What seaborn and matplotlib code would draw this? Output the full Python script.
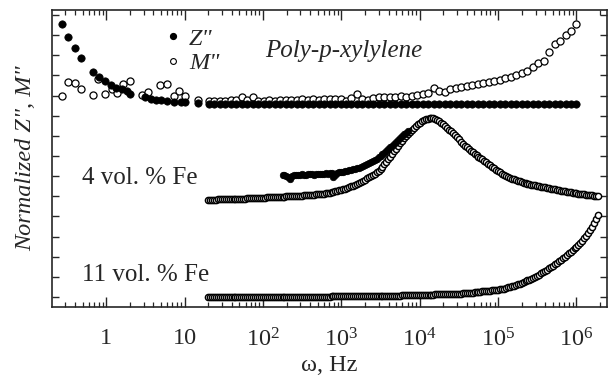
import numpy as np
import pandas as pd
import matplotlib
matplotlib.use("Agg")
import matplotlib.pyplot as plt
import seaborn as sns
from matplotlib.ticker import LogLocator, NullFormatter
from matplotlib.lines import Line2D

# ---------------- data (log10 of frequency in Hz, normalized values) ----------------
# Poly-p-xylylene, low-frequency part
logf_pz_low = [-0.56, -0.49, -0.40, -0.32, -0.17, -0.09, -0.01, 0.06, 0.13, 0.20,
               0.27, 0.31, 0.50, 0.57, 0.63, 0.70, 0.78, 0.86, 0.95, 1.01, 1.17]
z_pz_low = [13.55, 12.91, 12.36, 11.87, 11.17, 10.92, 10.72, 10.53, 10.38, 10.33,
            10.23, 10.08, 9.93, 9.83, 9.80, 9.78, 9.73, 9.70, 9.68, 9.68, 9.65]
logf_pm_low = [-0.56, -0.49, -0.40, -0.32, -0.17, -0.10, -0.02, 0.08, 0.14, 0.22,
               0.31, 0.46, 0.54, 0.69, 0.78, 0.86, 0.93, 1.01, 1.17]
m_pm_low = [9.98, 10.67, 10.63, 10.33, 10.03, 10.82, 10.08, 10.33, 10.13, 10.58,
            10.72, 10.03, 10.18, 10.53, 10.58, 9.98, 10.23, 9.98, 9.78]

# Poly-p-xylylene, 20 Hz .. 1 MHz
logf_top = [1.31, 1.38, 1.45, 1.52, 1.59, 1.66, 1.73, 1.80, 1.87, 1.94, 2.01, 2.08,
            2.15, 2.22, 2.29, 2.36, 2.43, 2.50, 2.57, 2.64, 2.71, 2.78, 2.85, 2.92,
            2.99, 3.06, 3.13, 3.20, 3.27, 3.34, 3.41, 3.48, 3.55, 3.62, 3.69, 3.76,
            3.83, 3.90, 3.97, 4.04, 4.11, 4.18, 4.25, 4.32, 4.39, 4.46, 4.53, 4.60,
            4.67, 4.74, 4.81, 4.88, 4.95, 5.02, 5.09, 5.16, 5.23, 5.30, 5.37, 5.44,
            5.51, 5.58, 5.65, 5.72, 5.79, 5.86, 5.93, 6.00]
z_top = [9.60] * len(logf_top)
m_top = [9.73, 9.75, 9.73, 9.75, 9.78, 9.80, 9.93, 9.78, 9.93, 9.75, 9.75, 9.78,
         9.75, 9.78, 9.80, 9.78, 9.80, 9.83, 9.80, 9.83, 9.80, 9.83, 9.83, 9.83,
         9.83, 9.73, 9.88, 10.08, 9.85, 9.80, 9.88, 9.93, 9.95, 9.95, 9.93, 9.98,
         9.93, 9.98, 10.03, 10.08, 10.13, 10.38, 10.23, 10.20, 10.33, 10.40, 10.43, 10.48,
         10.53, 10.58, 10.63, 10.66, 10.70, 10.77, 10.85, 10.93, 11.02, 11.10, 11.22, 11.40,
         11.62, 11.70, 12.15, 12.55, 12.70, 13.00, 13.21, 13.55]

# 4 vol.% Fe and 11 vol.% Fe, 20 Hz .. 1.9 MHz
logf_fe = [1.300, 1.325, 1.350, 1.375, 1.400, 1.425, 1.450, 1.475, 1.500, 1.525,
           1.550, 1.575, 1.600, 1.625, 1.650, 1.675, 1.700, 1.725, 1.750, 1.775,
           1.800, 1.825, 1.850, 1.875, 1.900, 1.925, 1.950, 1.975, 2.000, 2.025,
           2.050, 2.075, 2.100, 2.125, 2.150, 2.175, 2.200, 2.225, 2.250, 2.275,
           2.300, 2.325, 2.350, 2.375, 2.400, 2.425, 2.450, 2.475, 2.500, 2.525,
           2.550, 2.575, 2.600, 2.625, 2.650, 2.675, 2.700, 2.725, 2.750, 2.775,
           2.800, 2.825, 2.850, 2.875, 2.900, 2.925, 2.950, 2.975, 3.000, 3.025,
           3.050, 3.075, 3.100, 3.125, 3.150, 3.175, 3.200, 3.225, 3.250, 3.275,
           3.300, 3.325, 3.350, 3.375, 3.400, 3.425, 3.450, 3.475, 3.500, 3.525,
           3.550, 3.575, 3.600, 3.625, 3.650, 3.675, 3.700, 3.725, 3.750, 3.775,
           3.800, 3.825, 3.850, 3.875, 3.900, 3.925, 3.950, 3.975, 4.000, 4.025,
           4.050, 4.075, 4.100, 4.125, 4.150, 4.175, 4.200, 4.225, 4.250, 4.275,
           4.300, 4.325, 4.350, 4.375, 4.400, 4.425, 4.450, 4.475, 4.500, 4.525,
           4.550, 4.575, 4.600, 4.625, 4.650, 4.675, 4.700, 4.725, 4.750, 4.775,
           4.800, 4.825, 4.850, 4.875, 4.900, 4.925, 4.950, 4.975, 5.000, 5.025,
           5.050, 5.075, 5.100, 5.125, 5.150, 5.175, 5.200, 5.225, 5.250, 5.275,
           5.300, 5.325, 5.350, 5.375, 5.400, 5.425, 5.450, 5.475, 5.500, 5.525,
           5.550, 5.575, 5.600, 5.625, 5.650, 5.675, 5.700, 5.725, 5.750, 5.775,
           5.800, 5.825, 5.850, 5.875, 5.900, 5.925, 5.950, 5.975, 6.000, 6.025,
           6.050, 6.075, 6.100, 6.125, 6.150, 6.175, 6.200, 6.225, 6.250, 6.275]
m_fe4 = [4.82, 4.82, 4.83, 4.83, 4.83, 4.84, 4.84, 4.84, 4.84, 4.85,
         4.85, 4.85, 4.86, 4.86, 4.86, 4.87, 4.87, 4.87, 4.88, 4.88,
         4.89, 4.89, 4.90, 4.90, 4.91, 4.91, 4.92, 4.92, 4.93, 4.93,
         4.94, 4.94, 4.95, 4.95, 4.96, 4.96, 4.97, 4.97, 4.98, 4.98,
         4.99, 4.99, 5.00, 5.00, 5.01, 5.01, 5.02, 5.02, 5.03, 5.04,
         5.05, 5.05, 5.06, 5.07, 5.08, 5.09, 5.10, 5.11, 5.12, 5.13,
         5.15, 5.16, 5.18, 5.20, 5.22, 5.24, 5.27, 5.29, 5.32, 5.35,
         5.38, 5.41, 5.45, 5.49, 5.53, 5.57, 5.62, 5.67, 5.72, 5.77,
         5.83, 5.89, 5.95, 6.01, 6.07, 6.13, 6.19, 6.26, 6.33, 6.45,
         6.58, 6.71, 6.84, 6.97, 7.10, 7.23, 7.37, 7.50, 7.63, 7.76,
         7.88, 7.99, 8.10, 8.21, 8.31, 8.41, 8.50, 8.58, 8.66, 8.72,
         8.78, 8.82, 8.86, 8.88, 8.89, 8.88, 8.85, 8.80, 8.74, 8.66,
         8.58, 8.49, 8.40, 8.31, 8.22, 8.12, 8.02, 7.92, 7.82, 7.71,
         7.61, 7.52, 7.43, 7.35, 7.27, 7.20, 7.12, 7.05, 6.97, 6.90,
         6.83, 6.75, 6.68, 6.60, 6.53, 6.46, 6.39, 6.31, 6.24, 6.18,
         6.12, 6.06, 6.01, 5.96, 5.92, 5.88, 5.84, 5.80, 5.77, 5.74,
         5.71, 5.68, 5.65, 5.62, 5.60, 5.58, 5.56, 5.54, 5.52, 5.50,
         5.48, 5.46, 5.44, 5.42, 5.40, 5.38, 5.36, 5.34, 5.32, 5.30,
         5.28, 5.26, 5.24, 5.22, 5.21, 5.19, 5.18, 5.16, 5.15, 5.13,
         5.12, 5.10, 5.09, 5.07, 5.06, 5.05, 5.04, 5.03, 5.02, 5.01]
m_fe11 = [0.00, 0.00, 0.00, 0.00, 0.00, 0.00, 0.00, 0.00, 0.00, 0.00,
          0.00, 0.00, 0.00, 0.00, 0.00, 0.00, 0.00, 0.00, 0.00, 0.00,
          0.00, 0.00, 0.00, 0.00, 0.00, 0.00, 0.00, 0.00, 0.00, 0.00,
          0.00, 0.00, 0.00, 0.00, 0.00, 0.00, 0.00, 0.00, 0.00, 0.00,
          0.00, 0.00, 0.00, 0.00, 0.01, 0.01, 0.01, 0.01, 0.01, 0.01,
          0.01, 0.01, 0.01, 0.02, 0.02, 0.02, 0.02, 0.02, 0.02, 0.02,
          0.02, 0.02, 0.02, 0.03, 0.03, 0.03, 0.03, 0.03, 0.03, 0.03,
          0.03, 0.03, 0.03, 0.04, 0.04, 0.04, 0.04, 0.04, 0.04, 0.04,
          0.04, 0.05, 0.05, 0.05, 0.05, 0.05, 0.05, 0.05, 0.05, 0.06,
          0.06, 0.06, 0.06, 0.06, 0.06, 0.07, 0.07, 0.07, 0.07, 0.08,
          0.08, 0.08, 0.08, 0.09, 0.09, 0.09, 0.09, 0.10, 0.10, 0.10,
          0.11, 0.11, 0.11, 0.12, 0.12, 0.12, 0.13, 0.13, 0.13, 0.14,
          0.14, 0.14, 0.15, 0.15, 0.15, 0.16, 0.16, 0.17, 0.17, 0.17,
          0.18, 0.19, 0.20, 0.20, 0.21, 0.22, 0.23, 0.24, 0.25, 0.26,
          0.27, 0.28, 0.29, 0.30, 0.31, 0.32, 0.33, 0.34, 0.35, 0.37,
          0.39, 0.41, 0.44, 0.47, 0.50, 0.53, 0.56, 0.59, 0.63, 0.66,
          0.70, 0.74, 0.78, 0.82, 0.86, 0.90, 0.94, 1.00, 1.05, 1.11,
          1.17, 1.23, 1.30, 1.36, 1.43, 1.49, 1.56, 1.63, 1.70, 1.77,
          1.84, 1.92, 2.00, 2.08, 2.16, 2.24, 2.33, 2.41, 2.50, 2.59,
          2.68, 2.80, 2.92, 3.04, 3.17, 3.32, 3.48, 3.66, 3.86, 4.06]

# 4 vol.% Fe, Z'' (visible part, 180 Hz .. 7 kHz)
logf_z4 = [2.250, 2.275, 2.300, 2.325, 2.350, 2.375, 2.400, 2.425, 2.450, 2.475,
           2.500, 2.525, 2.550, 2.575, 2.600, 2.625, 2.650, 2.675, 2.700, 2.725,
           2.750, 2.775, 2.800, 2.825, 2.850, 2.875, 2.900, 2.925, 2.950, 2.975,
           3.000, 3.025, 3.050, 3.075, 3.100, 3.125, 3.150, 3.175, 3.200, 3.225,
           3.250, 3.275, 3.300, 3.325, 3.350, 3.375, 3.400, 3.425, 3.450, 3.475,
           3.500, 3.525, 3.550, 3.575, 3.600, 3.625, 3.650, 3.675, 3.700, 3.725,
           3.750, 3.775, 3.800, 3.825, 3.850]
z_fe4 = [6.06, 6.05, 6.03, 5.95, 5.88, 6.02, 6.08, 6.06, 6.05, 6.08,
         6.10, 6.06, 6.04, 6.09, 6.12, 6.10, 6.08, 6.11, 6.13, 6.11,
         6.10, 6.13, 6.15, 6.13, 6.14, 6.15, 5.98, 6.05, 6.17, 6.18,
         6.21, 6.22, 6.24, 6.26, 6.28, 6.30, 6.33, 6.36, 6.39, 6.42,
         6.46, 6.50, 6.54, 6.58, 6.63, 6.68, 6.74, 6.80, 6.87, 6.94,
         7.01, 7.09, 7.17, 7.25, 7.34, 7.43, 7.52, 7.61, 7.71, 7.80,
         7.89, 7.98, 8.07, 8.16, 8.24]

x_ticks = [1, 10, 100, 1e3, 1e4, 1e5, 1e6]
x_tick_labels = ["1", "10", r"$10^{2}$", r"$10^{3}$", r"$10^{4}$", r"$10^{5}$", r"$10^{6}$"]
panel_labels = ["Poly-p-xylylene", "4 vol. % Fe", "11 vol. % Fe"]

# ---------------- styling ----------------
sns.set_theme(style="ticks")
plt.rcParams["font.family"] = ["Liberation Serif", "DejaVu Serif"]
plt.rcParams["mathtext.fontset"] = "custom"
plt.rcParams["mathtext.rm"] = "Liberation Serif"
plt.rcParams["mathtext.it"] = "Liberation Serif:italic"
plt.rcParams["axes.linewidth"] = 1.2

fig = plt.figure(figsize=(6.09, 3.83), dpi=100)
ax = fig.add_axes([52 / 609, 1 - 307 / 383, (607 - 52) / 609, (307 - 10) / 383])


def df(logf, vals):
    return pd.DataFrame({"f": 10 ** np.asarray(logf, dtype=float), "v": vals})


open_kw = dict(color="white", edgecolor="black", linewidth=0.9, marker="o", legend=False)
dense_kw = dict(color="white", edgecolor="black", linewidth=1.05, marker="o", legend=False)
fill_kw = dict(color="black", edgecolor="black", linewidth=0.5, marker="o", legend=False)

# top panel
sns.scatterplot(data=df(logf_pm_low + logf_top, m_pm_low + m_top), x="f", y="v", ax=ax,
                s=26, zorder=3, **open_kw)
sns.scatterplot(data=df(logf_pz_low + logf_top, z_pz_low + z_top), x="f", y="v", ax=ax,
                s=28, zorder=4, **fill_kw)
# 4 vol.% Fe
sns.scatterplot(data=df(logf_fe, m_fe4), x="f", y="v", ax=ax, s=20, zorder=3, **dense_kw)
sns.scatterplot(data=df(logf_z4, z_fe4), x="f", y="v", ax=ax, s=22, zorder=4, **fill_kw)
# 11 vol.% Fe
sns.scatterplot(data=df(logf_fe, m_fe11), x="f", y="v", ax=ax, s=20, zorder=3, **dense_kw)

ax.set_xscale("log")
ax.set_xlim(0.204, 2.45e6)
ax.set_ylim(-0.5, 14.25)

ax.set_xticks(x_ticks)
ax.set_xticklabels(x_tick_labels)
ax.xaxis.set_minor_locator(LogLocator(base=10, subs=np.arange(2, 10)))
ax.xaxis.set_minor_formatter(NullFormatter())
ax.set_yticks(range(0, 15))
ax.set_yticklabels([])
ax.yaxis.set_minor_locator(plt.NullLocator())

ax.tick_params(axis="x", which="major", direction="in", length=7, width=1.0,
               top=True, bottom=True, labelsize=17.5, pad=15)
ax.tick_params(axis="x", which="minor", direction="in", length=3.5, width=0.9,
               top=True, bottom=True)
ax.tick_params(axis="y", which="major", direction="in", length=5, width=1.0,
               left=True, right=True)

ax.set_xlabel("ω, Hz", fontsize=17.5, labelpad=3)
ax.set_ylabel('Normalized Z", M"', fontsize=17.5, fontstyle="italic", labelpad=8)

# legend
handles = [Line2D([], [], marker="o", linestyle="none", markersize=4.2,
                  markerfacecolor="black", markeredgecolor="black"),
           Line2D([], [], marker="o", linestyle="none", markersize=4.2,
                  markerfacecolor="white", markeredgecolor="black", markeredgewidth=0.8)]
ax.legend(handles, ['Z"', 'M"'], loc="upper left", bbox_to_anchor=(0.205, 0.94),
          frameon=False, handlelength=0.6, handletextpad=0.35, labelspacing=0.1,
          borderpad=0, borderaxespad=0,
          prop={"family": "Liberation Serif", "style": "italic", "size": 17.5})

ax.text(0.525, 0.862, panel_labels[0], transform=ax.transAxes, fontsize=18,
        fontstyle="italic", ha="center", va="center")
ax.text(0.054, 0.434, panel_labels[1], transform=ax.transAxes, fontsize=18,
        ha="left", va="center")
ax.text(0.054, 0.108, panel_labels[2], transform=ax.transAxes, fontsize=18,
        ha="left", va="center")

fig.savefig("out.png", dpi=100)
